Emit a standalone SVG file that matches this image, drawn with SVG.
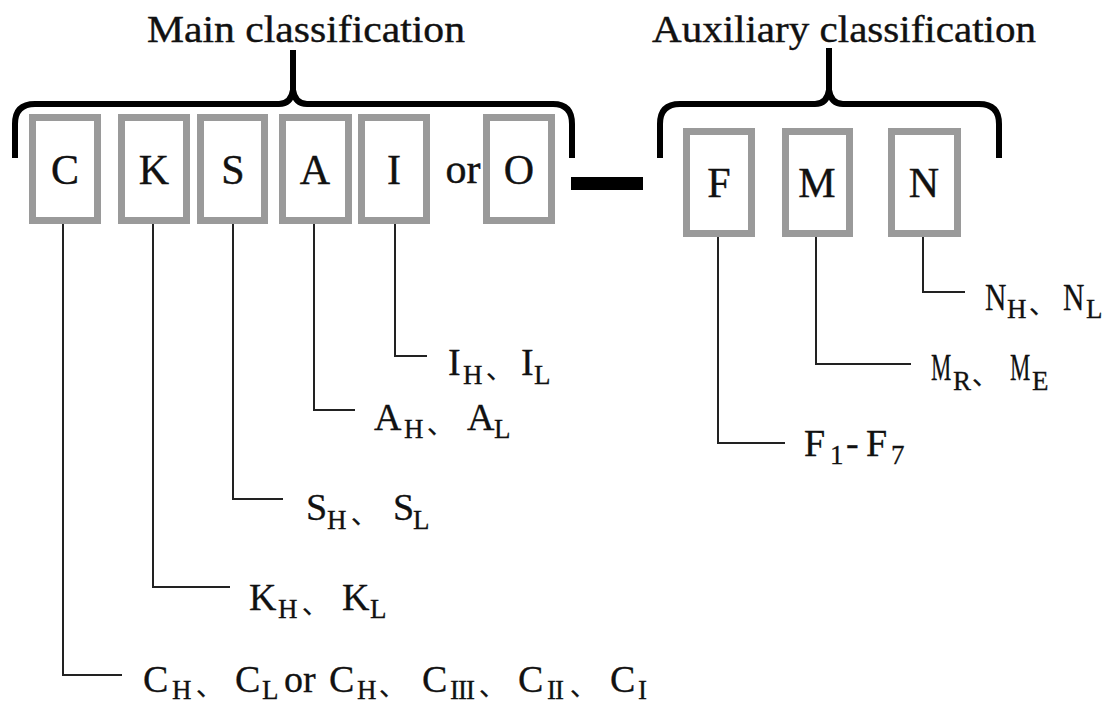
<svg xmlns="http://www.w3.org/2000/svg" width="1105" height="704" viewBox="0 0 1105 704">
<style>
.title{font-family:"Liberation Serif","Times New Roman",serif;font-size:38px;fill:#111;stroke:#111;stroke-width:0.4}
.box{fill:#fff;stroke:#9a9a9a;stroke-width:7}
.bl{font-family:"Liberation Serif","Times New Roman",serif;font-size:42px;fill:#111;text-anchor:middle;stroke:#111;stroke-width:0.4}
.brace{fill:none;stroke:#000;stroke-width:6;stroke-linecap:butt;stroke-linejoin:round}
.con{fill:none;stroke:#222;stroke-width:2}
.lbl{font-family:"Liberation Serif","Times New Roman",serif;font-size:38px;fill:#111;stroke:#111;stroke-width:0.3}
.sub{font-size:27px}
.cm{font-family:"Noto Sans CJK SC","Noto Sans CJK JP",sans-serif;font-size:26px}
</style>
<rect width="1105" height="704" fill="#fff"/>
<g id="titles">
<text class="title" x="147" y="42" textLength="318" lengthAdjust="spacingAndGlyphs">Main  classification</text>
<text class="title" x="652" y="42" textLength="384" lengthAdjust="spacingAndGlyphs">Auxiliary  classification</text>
</g>
<g id="braces">
<path class="brace" d="M15,158 V124 Q15,104 35,104 H279 Q291,104 293,90 Q295,104 307,104 H553 Q572,104 572,124 V158"/>
<path class="brace" d="M293,98 V50" stroke-width="7"/>
<path class="brace" d="M660,158 V124 Q660,104 680,104 H815 Q827,104 829,90 Q831,104 843,104 H979 Q999,104 999,124 V158"/>
<path class="brace" d="M829,98 V48" stroke-width="7"/>
</g>
<g id="node-C"><rect class="box" x="32.5" y="117.5" width="65" height="103"/><text class="bl" x="65" y="184">C</text></g>
<g id="node-K"><rect class="box" x="121.5" y="117.5" width="65" height="103"/><text class="bl" x="154" y="184">K</text></g>
<g id="node-S"><rect class="box" x="200.5" y="117.5" width="64" height="103"/><text class="bl" x="233" y="184">S</text></g>
<g id="node-A"><rect class="box" x="282.5" y="117.5" width="66" height="103"/><text class="bl" x="315" y="184">A</text></g>
<g id="node-I"><rect class="box" x="361.5" y="117.5" width="65" height="103"/><text class="bl" x="394" y="184">I</text></g>
<g id="or-text"><text class="bl" x="463" y="183">or</text></g>
<g id="node-O"><rect class="box" x="486.5" y="117.5" width="65" height="103"/><text class="bl" x="519" y="184">O</text></g>
<g id="dash"><rect x="571" y="177" width="72" height="13" fill="#000"/></g>
<g id="node-F"><rect class="box" x="686.5" y="131.5" width="65" height="102"/><text class="bl" x="719" y="197">F</text></g>
<g id="node-M"><rect class="box" x="785.5" y="131.5" width="64" height="102"/><text class="bl" x="817" y="197">M</text></g>
<g id="node-N"><rect class="box" x="891.5" y="131.5" width="66" height="102"/><text class="bl" x="924" y="197">N</text></g>
<g id="connectors">
<path class="con" d="M63,224 V675 H122"/>
<path class="con" d="M153,224 V587 H230"/>
<path class="con" d="M233,224 V499 H283"/>
<path class="con" d="M314,224 V410 H355"/>
<path class="con" d="M395,224 V356 H427"/>
<path class="con" d="M718,237 V443 H785"/>
<path class="con" d="M816,237 V364 H911"/>
<path class="con" d="M923,237 V292 H965"/>
</g>
<g id="label-C"><text class="lbl"><tspan x="143" y="692">C</tspan><tspan class="sub" x="172" y="699">H</tspan><tspan class="cm" x="196" y="696">、</tspan><tspan x="235" y="692">C</tspan><tspan class="sub" x="262" y="699">L</tspan><tspan x="284" y="692">or</tspan><tspan x="329" y="692">C</tspan><tspan class="sub" x="357" y="699">H</tspan><tspan class="cm" x="379" y="696">、</tspan><tspan x="422" y="692">C</tspan><tspan class="sub" x="450" y="699" letter-spacing="-1">III</tspan><tspan class="cm" x="479" y="696">、</tspan><tspan x="518" y="692">C</tspan><tspan class="sub" x="547" y="699" letter-spacing="-1">II</tspan><tspan class="cm" x="570" y="696">、</tspan><tspan x="610" y="692">C</tspan><tspan class="sub" x="638" y="699">I</tspan></text></g>
<g id="label-K"><text class="lbl"><tspan x="249" y="610">K</tspan><tspan class="sub" x="278" y="618">H</tspan><tspan class="cm" x="302" y="614">、</tspan><tspan x="342" y="610">K</tspan><tspan class="sub" x="370" y="618">L</tspan></text></g>
<g id="label-S"><text class="lbl"><tspan x="306" y="520">S</tspan><tspan class="sub" x="327" y="529">H</tspan><tspan class="cm" x="351" y="524">、</tspan><tspan x="393" y="520">S</tspan><tspan class="sub" x="413" y="529">L</tspan></text></g>
<g id="label-A"><text class="lbl"><tspan x="374" y="430">A</tspan><tspan class="sub" x="404" y="438">H</tspan><tspan class="cm" x="427" y="434">、</tspan><tspan x="467" y="430">A</tspan><tspan class="sub" x="494" y="438">L</tspan></text></g>
<g id="label-I"><text class="lbl"><tspan x="448" y="375">I</tspan><tspan class="sub" x="463" y="384">H</tspan><tspan class="cm" x="486" y="379">、</tspan><tspan x="521" y="375">I</tspan><tspan class="sub" x="534" y="384">L</tspan></text></g>
<g id="label-F"><text class="lbl"><tspan x="804" y="456">F</tspan><tspan class="sub" x="830" y="464">1</tspan><tspan x="846" y="456">-</tspan><tspan x="866" y="456">F</tspan><tspan class="sub" x="891" y="464">7</tspan></text></g>
<g id="label-M">
<text class="lbl" transform="translate(931,380) scale(0.6,1)">M</text>
<text class="lbl sub" x="953" y="390">R</text>
<text class="lbl cm" x="972" y="385">、</text>
<text class="lbl" transform="translate(1010,380) scale(0.6,1)">M</text>
<text class="lbl sub" x="1032" y="390">E</text>
</g>
<g id="label-N">
<text class="lbl" transform="translate(985,310) scale(0.78,1)">N</text>
<text class="lbl sub" x="1007" y="318">H</text>
<text class="lbl cm" x="1029" y="314">、</text>
<text class="lbl" transform="translate(1063,310) scale(0.78,1)">N</text>
<text class="lbl sub" x="1086" y="318">L</text>
</g>
</svg>
